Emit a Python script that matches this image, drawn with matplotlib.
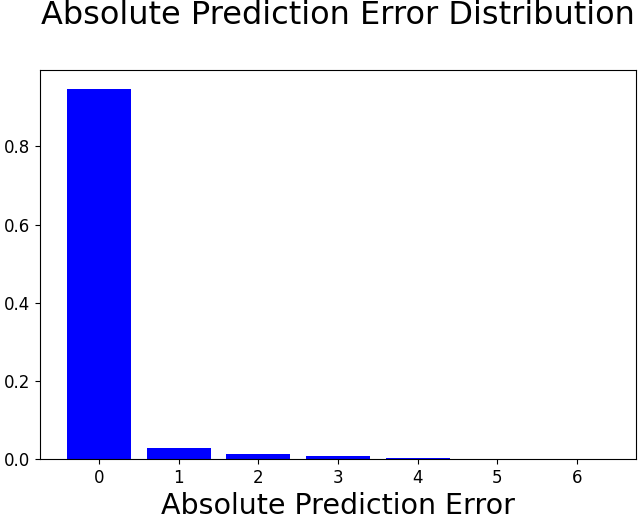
import matplotlib
matplotlib.use("Agg")
import matplotlib.pyplot as plt

# absolute error -> fraction of predictions
errors = [0, 1, 2, 3, 4, 5, 6]
fractions = [0.948, 0.0275, 0.0136, 0.0077, 0.0026, 0.0006, 0.0003]

fig = plt.figure(figsize=(6.4, 5.19), dpi=100)
ax = fig.add_axes([0.0625, 0.1156, 0.93125, 0.7495])
ax.bar(errors, fractions, color="blue")
ax.set_xticks(errors)
ax.tick_params(labelsize=12)
ax.set_xlabel("Absolute Prediction Error", fontsize=20.5, labelpad=4)
ax.set_title("Absolute Prediction Error Distribution", fontsize=23, pad=33)

fig.savefig("out.png")
